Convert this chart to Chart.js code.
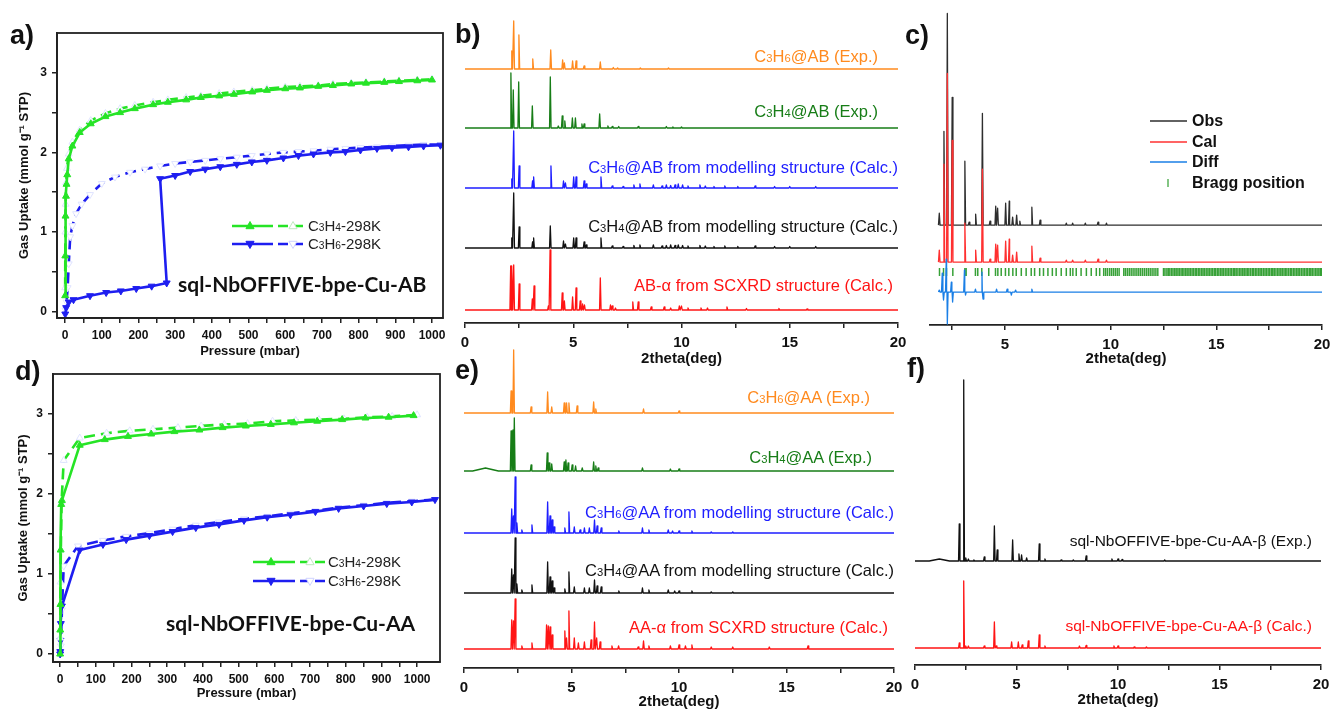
<!DOCTYPE html>
<html>
<head>
<meta charset="utf-8">
<script src="https://cdn.jsdelivr.net/npm/chart.js@4.4.1/dist/chart.umd.min.js"></script>
<style>
  body { margin: 0; background: #fff; }
  #fig { position: relative; width: 1331px; height: 709px; overflow: hidden; font-family: 'Liberation Sans', Arial, sans-serif; }
  canvas { position: absolute; }
  .t { position: absolute; white-space: nowrap; line-height: 1; transform: translateY(-50%); }
  sub { font-size: 0.68em; vertical-align: baseline; }
  .lbl { font-size: 16.5px; }
  .pl { font-weight: bold; font-size: 27px; color: #111; }
  .sn { font-family: Lato, 'Open Sans', sans-serif; font-weight: bold; font-size: 21px; color: #111; }
  .lg { font-size: 15px; color: #222; }
  .cl { font-size: 16px; font-weight: bold; color: #111; }
</style>
</head>
<body>
<div id="fig">
  <canvas id="cA" width="455" height="360" style="left:0;top:0"></canvas>
  <canvas id="cD" width="455" height="354" style="left:0;top:355px"></canvas>
  <canvas id="cB" width="460" height="368" style="left:455px;top:0"></canvas>
  <canvas id="cE" width="450" height="364" style="left:455px;top:345px"></canvas>
  <canvas id="cC" width="426" height="368" style="left:905px;top:0"></canvas>
  <canvas id="cF" width="426" height="364" style="left:905px;top:345px"></canvas>

  <div class="t pl" style="left:10px;top:35px">a)</div>
  <div class="t pl" style="left:455px;top:34px">b)</div>
  <div class="t pl" style="left:905px;top:35px">c)</div>
  <div class="t pl" style="left:15px;top:371px">d)</div>
  <div class="t pl" style="left:455px;top:370px">e)</div>
  <div class="t pl" style="left:907px;top:368px">f)</div>

  <div class="t lg" style="left:308px;top:226px">C<sub>3</sub>H<sub>4</sub>-298K</div>
  <div class="t lg" style="left:308px;top:244px">C<sub>3</sub>H<sub>6</sub>-298K</div>
  <div class="t sn" style="left:178px;top:283px">sql-NbOFFIVE-bpe-Cu-AB</div>
  <div class="t lg" style="left:328px;top:562px">C<sub>3</sub>H<sub>4</sub>-298K</div>
  <div class="t lg" style="left:328px;top:581px">C<sub>3</sub>H<sub>6</sub>-298K</div>
  <div class="t sn" style="left:166px;top:622px">sql-NbOFFIVE-bpe-Cu-AA</div>

  <div class="t lbl" style="right:453px;top:56px;color:#ff8a1e">C<sub>3</sub>H<sub>6</sub>@AB (Exp.)</div>
  <div class="t lbl" style="right:453px;top:111px;color:#177d17">C<sub>3</sub>H<sub>4</sub>@AB (Exp.)</div>
  <div class="t lbl" style="right:433px;top:167px;color:#1e1eff">C<sub>3</sub>H<sub>6</sub>@AB from modelling structure (Calc.)</div>
  <div class="t lbl" style="right:433px;top:226px;color:#111">C<sub>3</sub>H<sub>4</sub>@AB from modelling structure (Calc.)</div>
  <div class="t lbl" style="right:438px;top:285px;color:#ff1414">AB-α from SCXRD structure (Calc.)</div>

  <div class="t lbl" style="right:461px;top:397px;color:#ff8a1e">C<sub>3</sub>H<sub>6</sub>@AA (Exp.)</div>
  <div class="t lbl" style="right:459px;top:457px;color:#177d17">C<sub>3</sub>H<sub>4</sub>@AA (Exp.)</div>
  <div class="t lbl" style="right:437px;top:512px;color:#1e1eff">C<sub>3</sub>H<sub>6</sub>@AA from modelling structure (Calc.)</div>
  <div class="t lbl" style="right:437px;top:570px;color:#111">C<sub>3</sub>H<sub>4</sub>@AA from modelling structure (Calc.)</div>
  <div class="t lbl" style="right:443px;top:627px;color:#ff1414">AA-α from SCXRD structure (Calc.)</div>

  <div class="t cl" style="left:1192px;top:121px">Obs</div>
  <div class="t cl" style="left:1192px;top:142px">Cal</div>
  <div class="t cl" style="left:1192px;top:162px">Diff</div>
  <div class="t cl" style="left:1192px;top:183px">Bragg position</div>

  <div class="t" style="right:19px;top:541px;font-size:15.5px;color:#111">sql-NbOFFIVE-bpe-Cu-AA-β (Exp.)</div>
  <div class="t" style="right:19px;top:626px;font-size:15.5px;color:#ff1414">sql-NbOFFIVE-bpe-Cu-AA-β (Calc.)</div>
</div>

<script>
// ---- isotherms, panel a (AB) ----
const aC3H4AdsP = [0.2, 0.6, 1.2, 2.5, 4, 6, 10, 20, 40, 70, 110, 150, 190, 240, 280, 330, 370, 420, 460, 510, 550, 600, 640, 690, 730, 780, 820, 870, 910, 960, 1000];
const aC3H4AdsU = [0.2, 0.7, 1.2, 1.45, 1.6, 1.72, 1.92, 2.08, 2.25, 2.36, 2.45, 2.5, 2.55, 2.6, 2.63, 2.66, 2.69, 2.71, 2.73, 2.76, 2.78, 2.8, 2.81, 2.83, 2.84, 2.86, 2.87, 2.88, 2.89, 2.9, 2.91];
const aC3H4DesP = [1000, 960, 910, 870, 820, 780, 730, 690, 640, 600, 550, 510, 460, 420, 370, 330, 280, 240, 190, 150, 110, 70, 40, 20, 10, 5, 3, 1.5, 0.8, 0.3];
const aC3H4DesU = [2.92, 2.91, 2.9, 2.89, 2.88, 2.87, 2.86, 2.84, 2.83, 2.82, 2.8, 2.78, 2.76, 2.74, 2.71, 2.69, 2.66, 2.63, 2.59, 2.55, 2.49, 2.4, 2.28, 2.13, 1.98, 1.8, 1.62, 1.35, 1.0, 0.3];
const aC3H6AdsP = [0.5, 3, 10, 23, 68, 112, 152, 194, 236, 277, 259, 300, 341, 382, 423, 468, 509, 550, 595, 636, 677, 723, 764, 805, 850, 891, 936, 977, 1023];
const aC3H6AdsU = [-0.03, 0.05, 0.12, 0.15, 0.2, 0.24, 0.26, 0.29, 0.32, 0.36, 1.67, 1.71, 1.76, 1.79, 1.82, 1.85, 1.88, 1.9, 1.93, 1.96, 1.98, 2.0, 2.01, 2.03, 2.05, 2.06, 2.07, 2.08, 2.09];
const aC3H6DesP = [1023, 977, 936, 891, 850, 805, 764, 723, 677, 636, 595, 550, 509, 468, 423, 382, 341, 300, 259, 218, 177, 136, 100, 68, 45, 30, 20, 14, 10, 7, 4, 1];
const aC3H6DesU = [2.1, 2.1, 2.09, 2.08, 2.07, 2.06, 2.05, 2.04, 2.02, 2.01, 2.0, 1.98, 1.96, 1.94, 1.92, 1.9, 1.88, 1.86, 1.83, 1.79, 1.75, 1.69, 1.61, 1.47, 1.35, 1.23, 1.08, 0.94, 0.6, 0.3, 0.12, 0.02];

// ---- isotherms, panel d (AA) ----
const dC3H4AdsP = [0, 0.3, 0.8, 1.5, 3, 5, 55, 125, 190, 255, 320, 390, 455, 520, 590, 655, 720, 790, 855, 920, 990];
const dC3H4AdsU = [0, 0.3, 0.62, 1.3, 1.87, 1.92, 2.61, 2.68, 2.72, 2.75, 2.78, 2.8, 2.83, 2.85, 2.87, 2.89, 2.91, 2.93, 2.95, 2.96, 2.98];
const dC3H4DesP = [1000, 930, 860, 795, 725, 660, 595, 525, 460, 395, 330, 260, 195, 130, 55, 10, 4, 2, 1, 0.3];
const dC3H4DesU = [2.99, 2.97, 2.96, 2.94, 2.93, 2.92, 2.91, 2.88, 2.87, 2.85, 2.83, 2.81, 2.79, 2.76, 2.7, 2.42, 1.9, 1.3, 0.9, 0.2];
const dC3H6AdsP = [0, 0.3, 1, 2, 5, 55, 120, 185, 250, 315, 380, 445, 515, 580, 645, 715, 780, 850, 915, 985, 1050];
const dC3H6AdsU = [0, 0.03, 0.17, 0.38, 0.6, 1.3, 1.37, 1.43, 1.48, 1.53, 1.58, 1.62, 1.67, 1.71, 1.74, 1.78, 1.82, 1.85, 1.88, 1.9, 1.93];
const dC3H6DesP = [1050, 985, 915, 850, 780, 715, 645, 580, 515, 445, 380, 315, 250, 185, 120, 50, 10, 5, 2, 0.5];
const dC3H6DesU = [1.93, 1.91, 1.89, 1.86, 1.83, 1.79, 1.76, 1.72, 1.69, 1.65, 1.61, 1.56, 1.51, 1.47, 1.42, 1.35, 1.1, 0.55, 0.1, 0];

const pressureTicks = [0, 50, 100, 150, 200, 250, 300, 350, 400, 450, 500, 550, 600, 650, 700, 750, 800, 850, 900, 950, 1000];
const uptakeTicks = [0, 0.5, 1, 1.5, 2, 2.5, 3];
const twoThetaTicks = [0, 2.5, 5, 7.5, 10, 12.5, 15, 17.5, 20];
const twoThetaTicksC = [2.5, 5, 7.5, 10, 12.5, 15, 17.5, 20];

// ---- PXRD patterns: [2theta, intensity (a.u.), optional half-width] ----
const bOffsets = [254, 195, 135, 75, 13]; // C3H6 exp, C3H4 exp, C3H6 calc, C3H4 calc, AB-alpha
const bC3H6Exp = [[2.16,18],[2.25,48],[2.49,34],[3.13,10],[3.96,19],[4.51,9],[4.59,6],[4.97,8],[5.13,8],[5.5,3],[6.25,7],[6.85,1.5],[7.05,1],[8.1,1],[9.4,1]];
const bC3H4Exp = [[2.12,55],[2.23,38],[2.48,46],[3.11,22],[3.94,51],[4.31,2],[4.49,12],[4.61,7],[4.96,10],[5.1,10],[5.4,4],[5.5,4],[6.22,14],[6.6,2],[6.8,1.5],[7.1,1.5],[8.0,1.5],[9.3,1.5],[9.6,1],[10.0,1]];
const bC3H6Calc = [[2.16,9],[2.25,57],[2.5,22],[3.12,7],[3.17,11],[3.97,22],[4.55,7],[4.64,5],[5.02,11],[5.13,11],[5.5,7],[5.6,4],[6.28,11],[6.8,2],[7.3,1.5],[7.8,3],[8.08,4],[8.7,3],[9.1,2],[9.3,3],[9.5,2.5],[9.7,3],[9.85,4],[10.05,3],[10.3,2],[10.85,3],[11.1,2],[11.5,1.5],[12.0,2],[12.6,1.5],[13.4,2],[14.3,1.5],[15.0,1.5],[16.2,1.5]];
const bC3H4Calc = [[2.16,10],[2.25,55],[2.5,21],[3.12,6],[3.17,10],[3.94,22],[4.55,7],[4.64,4],[5.02,10],[5.13,10],[5.5,6],[5.6,3],[6.28,10],[6.8,2],[7.3,1.5],[7.8,2.5],[8.08,3],[8.7,3],[9.1,2],[9.3,2.5],[9.5,3],[9.7,2.5],[9.85,3],[10.05,2.5],[10.3,2],[10.85,2.5],[11.1,2],[11.5,1.5],[12.0,2],[12.6,1.5],[13.4,2],[14.3,1.5],[15.0,1.5],[16.2,1.5]];
const bABalpha = [[2.11,44],[2.17,44],[2.25,45],[2.5,26],[3.11,11],[3.19,24],[3.85,4],[3.93,60],[4.49,17],[4.59,9],[4.97,13],[5.13,22],[5.32,9],[5.43,6],[5.52,5],[6.25,32],[6.72,5],[6.8,4],[6.95,2],[7.75,8],[8.0,8],[8.6,3],[9.2,3],[9.5,2],[9.9,4],[10.0,4],[10.3,2],[10.9,2],[11.2,2],[12.1,3],[13.0,1.5],[14.5,1.5],[15.8,1]];

const eOffsets = [255, 197, 135, 75, 19];
const eC3H6Exp = [[2.19,22],[2.31,63],[3.12,6],[3.89,21],[4.08,6],[4.66,10],[4.77,10],[4.88,10],[5.26,7],[6.03,11],[6.13,4],[8.35,4],[10.0,2]];
const eC3H4Exp = [[1.0,3,0.6],[2.19,40],[2.28,41],[2.34,53],[3.12,6],[3.87,18],[3.96,8],[4.08,7],[4.66,9],[4.74,11],[4.84,8],[5.03,6],[5.19,5],[5.5,3],[6.03,9],[6.13,5],[6.24,3],[8.3,3],[9.6,2],[10.0,2]];
const eC3H6Calc = [[2.22,24],[2.3,17],[2.38,56],[2.46,10],[2.69,3],[3.16,8],[3.89,31],[4.0,17],[4.1,13],[4.19,6],[4.69,5],[4.88,21],[5.13,6],[5.4,3],[5.6,5],[5.83,5],[6.07,13],[6.19,7],[6.38,5],[7.2,2],[8.3,5],[8.6,3],[9.5,3],[9.7,2],[10.0,2],[10.6,2],[11.5,1],[12.5,1]];
const eC3H4Calc = [[2.22,24],[2.3,18],[2.38,55],[2.46,9],[2.69,3],[3.16,8],[3.89,31],[4.0,16],[4.1,12],[4.19,5],[4.69,4],[4.88,21],[5.13,6],[5.6,5],[5.83,5],[6.07,13],[6.19,7],[6.38,6],[7.2,2],[8.3,5],[8.6,3],[9.5,3],[9.8,2],[10.0,2],[10.6,2],[11.5,1],[12.5,1]];
const eAAalpha = [[2.22,29],[2.3,28],[2.38,50],[2.69,3],[3.16,6],[3.84,24],[3.92,23],[4.0,22],[4.1,14],[4.69,18],[4.77,11],[4.88,38],[5.13,11],[5.32,6],[5.6,7],[5.91,9],[6.07,27],[6.17,11],[6.33,7],[6.88,3],[7.19,3],[8.1,2],[8.35,8],[8.6,3],[9.6,3],[10.0,4],[10.3,3],[10.6,4],[11.5,2],[12.5,2],[14.2,2],[16.0,3]];

const cOffsets = [100, 63, 33]; // obs, cal, diff
const cBraggLevel = 53;
const cObs = [[1.89,12],[2.11,94],[2.27,212],[2.5,128],[3.1,64],[3.3,3],[3.61,11],[3.93,112],[4.29,4],[4.56,19],[4.65,17],[5.03,22],[5.2,24],[5.36,8],[5.55,10],[5.7,4],[6.27,18],[6.66,5],[7.9,2],[8.2,2],[8.8,2],[9.4,3],[9.8,2],[5.2,3,1.6]];
const cCal = [[1.89,12],[2.11,98],[2.27,189],[2.5,122],[3.1,39],[3.61,12],[3.93,93],[4.29,3],[4.56,18],[4.65,17],[5.03,21],[5.2,23],[5.36,7],[5.55,10],[6.27,16],[6.66,4],[7.9,2],[8.2,2],[8.8,2],[9.4,3],[9.8,2],[5.2,3,1.6]];
const cDiff = [[1.89,2],[2.03,19],[2.09,-8],[2.22,33],[2.27,-32],[2.46,10],[2.52,-10],[3.08,22],[3.13,-3],[3.6,3],[3.91,20],[3.96,-7],[4.6,3],[5.1,3],[5.3,-3],[5.5,2],[6.27,3]];
const cBragg = [1.9, 2.09, 2.23, 2.53, 3.1, 3.16, 3.6, 3.71, 3.9, 4.23, 4.55, 4.66, 4.82, 5.02, 5.18, 5.37, 5.53, 5.77, 6.0, 6.24, 6.4, 6.64, 6.82, 7.03, 7.24, 7.42, 7.66, 7.9, 8.09, 8.21, 8.37, 8.6, 8.85, 9.08, 9.32, 9.48,
  9.67, 9.76, 9.85, 9.95, 10.04, 10.13, 10.22, 10.31, 10.4, 10.62, 10.7, 10.79, 10.88, 10.97, 11.06, 11.15, 11.24, 11.33, 11.42, 11.51, 11.6, 11.69, 11.78, 11.87, 11.96, 12.05, 12.14, 12.23,
  12.5, 12.57, 12.66, 12.73, 12.8, 12.88, 12.95, 13.03, 13.1, 13.18, 13.25, 13.33, 13.4, 13.47, 13.55, 13.62, 13.7, 13.77, 13.85, 13.92, 14.0, 14.07, 14.15, 14.22, 14.3, 14.37, 14.44, 14.52, 14.6, 14.67,
  14.75, 14.82, 14.9, 14.97, 15.05, 15.12, 15.2, 15.27, 15.34, 15.42, 15.5, 15.57, 15.65, 15.72, 15.8, 15.87, 15.94, 16.02, 16.1, 16.17, 16.25, 16.32, 16.4, 16.47, 16.54, 16.62, 16.7, 16.77, 16.85, 16.92,
  17.0, 17.07, 17.14, 17.22, 17.3, 17.37, 17.45, 17.52, 17.6, 17.67, 17.74, 17.82, 17.9, 17.97, 18.05, 18.12, 18.2, 18.27, 18.34, 18.42, 18.5, 18.57, 18.65, 18.72, 18.8, 18.87, 18.94, 19.02, 19.1, 19.17,
  19.25, 19.32, 19.4, 19.47, 19.54, 19.62, 19.7, 19.77, 19.85, 19.92, 19.98];

const fOffsets = [104, 17];
const fBetaExp = [[1.2,2,0.5],[2.18,37],[2.4,181],[2.5,3],[2.63,2],[2.9,1],[3.41,4],[3.91,35],[4.05,11],[4.81,21],[5.12,7],[5.25,6],[5.5,3],[6.12,17],[6.4,2],[7.2,1],[7.8,1],[8.43,5],[9.7,2],[10.0,2],[10.2,1.5],[12.3,1]];
const fBetaCalc = [[2.18,5],[2.4,67],[2.5,2],[2.63,2],[3.41,2],[3.91,26],[4.0,2],[4.76,6],[5.09,6],[5.28,3],[5.58,7],[6.12,13],[6.4,2],[8.1,2],[8.43,2.5],[9.8,2],[10.0,2],[10.8,1],[11.4,1]];

const FONT = "'Liberation Sans', Arial, sans-serif";
const GREEN = '#26e426', BLUE = '#1e1ef0';

function xy(xs, ys) { return xs.map((x, i) => ({ x: x, y: ys[i] })); }

// each peak becomes a narrow spike sitting on the pattern's baseline
function pattern(peaks, base, lo, hi) {
  const pts = [{ x: lo, y: base }, { x: hi, y: base }];
  peaks.forEach(p => {
    const w = p[2] || 0.035;
    pts.push({ x: p[0] - w, y: base }, { x: p[0], y: base + p[1] }, { x: p[0] + w, y: base });
  });
  return pts.sort((a, b) => a.x - b.x);
}

function tri(ctx, x, y, r, down, fill, stroke) {
  const s = down ? -1 : 1;
  ctx.beginPath();
  ctx.moveTo(x, y - s * r);
  ctx.lineTo(x + r * 0.9, y + s * r * 0.6);
  ctx.lineTo(x - r * 0.9, y + s * r * 0.6);
  ctx.closePath();
  ctx.fillStyle = fill; ctx.fill();
  ctx.strokeStyle = stroke; ctx.lineWidth = 1; ctx.stroke();
}

const frame = {
  id: 'frame',
  afterDraw(chart, args, o) {
    if (!o.on) return;
    const a = chart.chartArea, c = chart.ctx;
    c.save(); c.strokeStyle = '#222'; c.lineWidth = 1.8;
    c.strokeRect(a.left, a.top, a.right - a.left, a.bottom - a.top);
    c.restore();
  }
};

const sampleLines = {
  id: 'sampleLines',
  afterDraw(chart, args, o) {
    const ctx = chart.ctx;
    (o.items || []).forEach(it => {
      ctx.save();
      ctx.strokeStyle = it.color; ctx.lineWidth = it.width || 2.5;
      ctx.setLineDash(it.dash || []);
      ctx.beginPath();
      if (it.vert) { ctx.moveTo(it.x0, it.y - 4); ctx.lineTo(it.x0, it.y + 4); }
      else { ctx.moveTo(it.x0, it.y); ctx.lineTo(it.x1, it.y); }
      ctx.stroke();
      ctx.setLineDash([]);
      (it.marks || []).forEach(m => tri(ctx, m.x, it.y, 4.5, m.down, m.fill, m.stroke));
      ctx.restore();
    });
  }
};

// keep edge tick labels from shrinking the plot area
function fixX(h) { return s => { s.height = h; s.paddingLeft = 0; s.paddingRight = 0; }; }

function isoSet(data, color, down, open) {
  return {
    data: data, showLine: true, borderColor: color, borderWidth: 2.6,
    borderDash: open ? [11, 6] : [], borderJoinStyle: 'round',
    pointStyle: 'triangle', pointRotation: down ? 180 : 0, pointRadius: 4,
    pointBackgroundColor: open ? '#ffffff' : color,
    pointBorderColor: open ? '#dfe3ff' : color, pointBorderWidth: 1
  };
}

function isoChart(id, xr, yr, sets, yW, xH, pad, xtPad, ytPad, legend) {
  new Chart(document.getElementById(id), {
    type: 'scatter',
    data: { datasets: sets },
    options: {
      responsive: false, animation: false, devicePixelRatio: 1,
      layout: { padding: pad },
      plugins: { legend: { display: false }, tooltip: { enabled: false }, frame: { on: true }, sampleLines: { items: legend } },
      scales: {
        x: {
          type: 'linear', min: xr[0], max: xr[1],
          afterBuildTicks: s => { s.ticks = pressureTicks.map(v => ({ value: v })); },
          afterFit: fixX(xH),
          ticks: { autoSkip: false, maxRotation: 0, padding: 5, color: '#111', font: { family: FONT, size: 12, weight: 'bold' }, callback: v => (v % 100 === 0 ? v : '') },
          grid: { drawOnChartArea: false, tickLength: 5, color: '#222', lineWidth: 1.5 },
          border: { color: '#222', width: 1.8 },
          title: { display: true, text: 'Pressure (mbar)', color: '#111', font: { family: FONT, size: 13, weight: 'bold' }, padding: { top: 0, bottom: xtPad } }
        },
        y: {
          type: 'linear', min: yr[0], max: yr[1],
          afterBuildTicks: s => { s.ticks = uptakeTicks.map(v => ({ value: v })); },
          afterFit: s => { s.width = yW; s.paddingTop = 0; s.paddingBottom = 0; },
          ticks: { autoSkip: false, padding: 5, color: '#111', font: { family: FONT, size: 12, weight: 'bold' }, callback: v => (Number.isInteger(v) ? v : '') },
          grid: { drawOnChartArea: false, tickLength: 5, color: '#222', lineWidth: 1.5 },
          border: { color: '#222', width: 1.8 },
          title: { display: true, text: 'Gas Uptake (mmol g⁻¹ STP)', color: '#111', font: { family: FONT, size: 13, weight: 'bold' }, padding: { top: ytPad, bottom: 0 } }
        }
      }
    },
    plugins: [frame, sampleLines]
  });
}

function traceSet(data, color) {
  return { data: data, showLine: true, borderColor: color, borderWidth: 1.3, borderJoinStyle: 'round', pointRadius: 0, fill: false };
}

function pxrdChart(id, sets, xr, yMax, ticks, xH, pad, xtPad, legend) {
  new Chart(document.getElementById(id), {
    type: 'scatter',
    data: { datasets: sets },
    options: {
      responsive: false, animation: false, devicePixelRatio: 1,
      layout: { padding: pad },
      plugins: { legend: { display: false }, tooltip: { enabled: false }, frame: { on: false }, sampleLines: { items: legend || [] } },
      scales: {
        x: {
          type: 'linear', min: xr[0], max: xr[1],
          afterBuildTicks: s => { s.ticks = ticks.map(v => ({ value: v })); },
          afterFit: fixX(xH),
          ticks: { autoSkip: false, maxRotation: 0, padding: 6, color: '#111', font: { family: FONT, size: 15, weight: 'bold' }, callback: v => (v % 5 === 0 ? v : '') },
          grid: { drawOnChartArea: false, tickLength: 5, color: '#222', lineWidth: 1.5 },
          border: { color: '#222', width: 1.8 },
          title: { display: true, text: '2theta(deg)', color: '#111', font: { family: FONT, size: 15, weight: 'bold' }, padding: { top: 0, bottom: xtPad } }
        },
        y: { display: false, min: 0, max: yMax }
      }
    },
    plugins: [sampleLines]
  });
}

// panel a
isoChart('cA', [-22, 1030], [-0.08, 3.5], [
  isoSet(xy(aC3H4AdsP, aC3H4AdsU), GREEN, false, false),
  isoSet(xy(aC3H4DesP, aC3H4DesU), GREEN, false, true),
  isoSet(xy(aC3H6AdsP, aC3H6AdsU), BLUE, true, false),
  isoSet(xy(aC3H6DesP, aC3H6DesU), BLUE, true, true)
], 57, 42, { top: 33, right: 12, left: 0, bottom: 0 }, 1, 17, [
  { x0: 232, x1: 263, y: 226, color: GREEN, marks: [{ x: 250, fill: GREEN, stroke: GREEN }] },
  { x0: 263, x1: 305, y: 226, color: GREEN, dash: [10, 5], marks: [{ x: 293, fill: '#fff', stroke: '#bfe8bf' }] },
  { x0: 232, x1: 263, y: 244, color: BLUE, marks: [{ x: 250, down: true, fill: BLUE, stroke: BLUE }] },
  { x0: 263, x1: 305, y: 244, color: BLUE, dash: [10, 5], marks: [{ x: 293, down: true, fill: '#fff', stroke: '#cfd3ff' }] }
]);

// panel d
isoChart('cD', [-20, 1064], [-0.1, 3.5], [
  isoSet(xy(dC3H4AdsP, dC3H4AdsU), GREEN, false, false),
  isoSet(xy(dC3H4DesP, dC3H4DesU), GREEN, false, true),
  isoSet(xy(dC3H6AdsP, dC3H6AdsU), BLUE, true, false),
  isoSet(xy(dC3H6DesP, dC3H6DesU), BLUE, true, true)
], 53, 47, { top: 19, right: 15, left: 0, bottom: 0 }, 8, 16, [
  { x0: 253, x1: 285, y: 207, color: GREEN, marks: [{ x: 271, fill: GREEN, stroke: GREEN }] },
  { x0: 285, x1: 325, y: 207, color: GREEN, dash: [10, 5], marks: [{ x: 310, fill: '#fff', stroke: '#bfe8bf' }] },
  { x0: 253, x1: 285, y: 226, color: BLUE, marks: [{ x: 271, down: true, fill: BLUE, stroke: BLUE }] },
  { x0: 285, x1: 325, y: 226, color: BLUE, dash: [10, 5], marks: [{ x: 310, down: true, fill: '#fff', stroke: '#cfd3ff' }] }
]);

// panel b
pxrdChart('cB', [
  traceSet(pattern(bC3H6Exp, bOffsets[0], 0, 20), '#ff8a1e'),
  traceSet(pattern(bC3H4Exp, bOffsets[1], 0, 20), '#177d17'),
  traceSet(pattern(bC3H6Calc, bOffsets[2], 0, 20), '#1e1eff'),
  traceSet(pattern(bC3H4Calc, bOffsets[3], 0, 20), '#111111'),
  traceSet(pattern(bABalpha, bOffsets[4], 0, 20), '#ff1414')
], [0, 20], 318, twoThetaTicks, 45, { top: 5, left: 10, right: 17, bottom: 0 }, 0);

// panel e
pxrdChart('cE', [
  traceSet(pattern(eC3H6Exp, eOffsets[0], 0, 20), '#ff8a1e'),
  traceSet(pattern(eC3H4Exp, eOffsets[1], 0, 20), '#177d17'),
  traceSet(pattern(eC3H6Calc, eOffsets[2], 0, 20), '#1e1eff'),
  traceSet(pattern(eC3H4Calc, eOffsets[3], 0, 20), '#111111'),
  traceSet(pattern(eAAalpha, eOffsets[4], 0, 20), '#ff1414')
], [0, 20], 320, twoThetaTicks, 41, { top: 3, left: 9, right: 11, bottom: 0 }, -2);

// panel c
pxrdChart('cC', [
  traceSet(pattern(cDiff, cOffsets[2], 1.85, 20), '#1a7fe6'),
  { data: cBragg.map(v => ({ x: v, y: cBraggLevel })), showLine: false, pointStyle: 'line', pointRotation: 90, pointRadius: 4,
    pointBorderWidth: 1.5, pointBorderColor: 'rgba(20,145,20,0.85)', pointBackgroundColor: 'rgba(20,145,20,0.85)' },
  traceSet(pattern(cCal, cOffsets[1], 1.85, 20), '#ff3030'),
  traceSet(pattern(cObs, cOffsets[0], 1.85, 20), '#2e2e2e')
], [1.45, 20], 320, twoThetaTicksC, 43, { top: 5, left: 25, right: 9, bottom: 0 }, 0, [
  { x0: 245, x1: 282, y: 121, color: '#2e2e2e', width: 1.5 },
  { x0: 245, x1: 282, y: 142, color: '#ff3030', width: 1.5 },
  { x0: 245, x1: 282, y: 162, color: '#1a7fe6', width: 1.5 },
  { x0: 263, y: 183, vert: true, color: 'rgba(20,145,20,0.7)', width: 1.5 }
]);

// panel f
pxrdChart('cF', [
  traceSet(pattern(fBetaExp, fOffsets[0], 0, 20), '#111111'),
  traceSet(pattern(fBetaCalc, fOffsets[1], 0, 20), '#ff1414')
], [0, 20], 317, twoThetaTicks, 44, { top: 3, left: 10, right: 10, bottom: 0 }, 0);
</script>
</body>
</html>
